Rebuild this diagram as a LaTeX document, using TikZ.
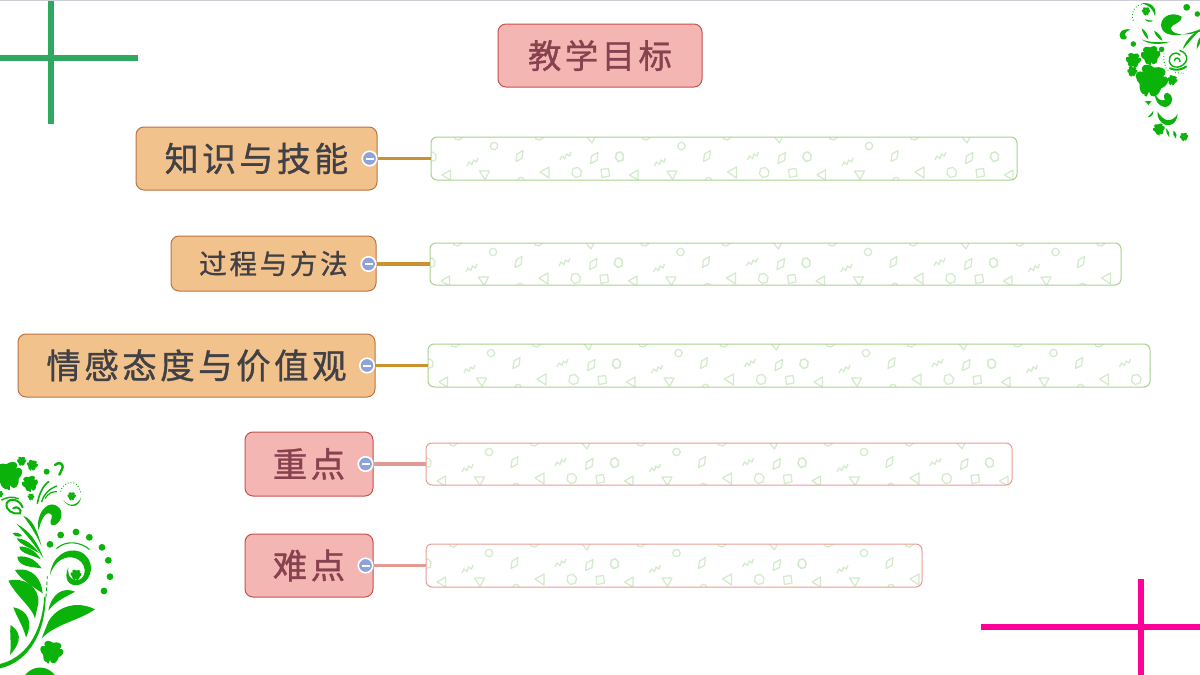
\documentclass[tikz,border=0pt]{standalone}
\usepackage{fontspec}
\newfontfamily\cjk[LetterSpace=10,FakeBold=1]{Noto Sans CJK SC}
\definecolor{orfill}{HTML}{F2C28D}
\definecolor{ordraw}{HTML}{BE7440}
\definecolor{pkfill}{HTML}{F4B6B3}
\definecolor{pkdraw}{HTML}{C5524F}
\definecolor{ortext}{HTML}{404045}
\definecolor{pktext}{HTML}{87414F}
\definecolor{orline}{HTML}{C9922F}
\definecolor{pkline}{HTML}{E29A93}
\definecolor{grnbox}{HTML}{ABD28C}
\definecolor{pkbox}{HTML}{E99C95}
\definecolor{patc}{HTML}{D3EBCC}
\definecolor{knobc}{HTML}{8FA3D8}
\definecolor{orn}{HTML}{0AB20A}
\definecolor{topline}{HTML}{CDCDD6}
\definecolor{crossgreen}{HTML}{2FA860}
\definecolor{crosspink}{HTML}{FF0099}
\tikzset{
  topic/.style={draw, rounded corners=8pt, line width=1pt, inner sep=0pt, align=center},
  ortopic/.style={topic, fill=orfill, draw=ordraw, text=ortext},
  pktopic/.style={topic, fill=pkfill, draw=pkdraw, text=pktext},
  sbox/.style={draw, rounded corners=6pt, line width=1pt, inner sep=0pt, fill=none},
  gbox/.style={sbox, draw=grnbox},
  rbox/.style={sbox, draw=pkbox},
  knob/.style={circle, fill=knobc, draw=white, line width=1.6pt, minimum size=14.5pt, inner sep=0pt},
  orlink/.style={draw=orline, line width=3.2pt},
  pklink/.style={draw=pkline, line width=3.2pt},
  patt/.style={draw=patc, line width=1.25pt, line join=round},
  ornf/.style={fill=orn, draw=none},
  orns/.style={draw=orn, line cap=round}
}
% pattern tile, drawn from the top-left of a box
\newcommand{\patrun}[4]{%
  \begin{scope}
    \clip[rounded corners=6pt] (#1,#2) rectangle (#3,#4);
    \foreach \ii in {0,1,2,3,4}{
      \begin{scope}[shift={({#1+1+\ii*187.5},#2)}]
        \draw[patt] (62,9) circle (3.7);
        \draw[patt] (84,24.5) -- (85,17) -- (91,13.5) -- (90,21.5) -- cycle;
        \draw[patt] (35,29) -- (37,25) -- (40,27.5) -- (41.5,23) -- (44.5,25) -- (46,21);
        \draw[patt] (10,38) -- (18.5,33) -- (18.5,43) -- cycle;
        \draw[patt] (47.5,34) -- (57.5,34) -- (53,42.5) -- cycle;
        \draw[patt] (22,-3) -- (30,-3) -- (31,0) -- (27,3) -- (23,2) -- cycle;
        \draw[patt] (103,-3) -- (111,-3) -- (112,0) -- (108,3) -- (104,2) -- cycle;
        \draw[patt] (154,-1) -- (164,-2) -- (160,6) -- cycle;
        \draw[patt] (128,23) -- (130,19) -- (133,21.5) -- (134.5,17) -- (137.5,19) -- (139,15);
        \draw[patt] (158.5,26.5) -- (159.5,19) -- (166,15.5) -- (165,23.5) -- cycle;
        \draw[patt] (-3,16) -- (1,15) -- (4,18) -- (3.5,23) -- (-1,24.5) -- (-4,21) -- cycle;
        \draw[patt] (184.5,16) -- (188.5,15) -- (191.5,18) -- (191,23) -- (186.5,24.5) -- (183.5,21) -- cycle;
        \draw[patt] (108,35) -- (117,30) -- (117,41) -- cycle;
        \draw[patt] (141,31.5) -- (146,30.5) -- (149.5,34) -- (148.5,39) -- (143.5,40.5) -- (140,37) -- cycle;
        \draw[patt] (169,32.5) -- (176.5,31.5) -- (177.5,39) -- (170,40.5) -- cycle;
        \draw[patt] (89,43.5) circle (3.2);
      \end{scope}
    }
  \end{scope}}
% clover: centre, size, rotation
\newcommand{\clover}[4]{%
  \begin{scope}[shift={(#1,#2)},rotate=#4,scale=#3]
    \foreach \aa in {0,120,240}{
      \fill[orn,rotate=\aa] (0,0) .. controls (-1.55,0.5) and (-0.95,1.45) .. (0,1) .. controls (0.95,1.45) and (1.55,0.5) .. (0,0) -- cycle;
    }
    \fill[orn] (-0.12,0) -- (0.12,0) -- (0.3,-1.35) -- (0.1,-1.35) -- cycle;
  \end{scope}}
\begin{document}
\begin{tikzpicture}[x=1pt,y=-1pt]
\useasboundingbox (0,0) rectangle (1200,675);
\fill[white] (0,0) rectangle (1200,675);
\fill[topline] (0,0) rectangle (1200,1.2);

% crosses
\fill[crossgreen] (0,54.5) rectangle (137.5,60.5);
\fill[crossgreen] (47.5,0.8) rectangle (53.5,124);
\fill[crosspink] (981,624) rectangle (1200,630);
\fill[crosspink] (1138,579) rectangle (1144,675);

% lower-left ornament (coordinates of a 3x view)
\begin{scope}[shift={(0,450)},x=0.33333pt,y=-0.33333pt]
  \fill[ornf] (25,392) .. controls (70,380) and (120,410) .. (115,460) -- (105,505) .. controls (95,470) and (50,440) .. cycle;
  \fill[ornf] (45,360) .. controls (100,350) and (125,390) .. (128,430) .. controls (90,405) and (60,385) .. cycle;
  \fill[ornf] (40,472) .. controls (85,480) and (100,520) .. (78,562) .. controls (70,530) and (50,500) .. cycle;
  \fill[ornf] (32,525) .. controls (60,545) and (70,570) .. (30,615) .. controls (35,580) and (28,550) .. cycle;
  \fill[ornf] (285,478) .. controls (230,450) and (170,470) .. (145,515) -- (125,565) .. controls (170,520) and (230,515) .. cycle;
  \fill[ornf] (225,425) .. controls (190,410) and (155,430) .. (145,482) .. controls (170,450) and (200,440) .. cycle;
  \fill[ornf] (52,320) .. controls (90,315) and (110,335) .. (125,355) .. controls (90,350) and (55,350) .. cycle;
  \fill[ornf] (58,290) .. controls (85,288) and (110,305) .. (122,328) .. controls (100,315) and (60,312) .. cycle;
  \fill[ornf] (50,265) .. controls (75,265) and (100,285) .. (118,310) .. controls (95,295) and (60,285) .. cycle;
  \fill[ornf] (50,222) .. controls (85,240) and (110,270) .. (130,325) .. controls (105,285) and (80,255) .. cycle;
  \fill[ornf] (38,250) .. controls (50,245) and (60,250) .. (66,258) .. controls (55,262) and (45,260) .. cycle;
  \fill[ornf] (70,198) .. controls (95,205) and (110,235) .. (125,290) .. controls (110,255) and (90,225) .. cycle;
  \fill[ornf] (75,675) .. controls (100,645) and (140,645) .. (165,675) -- cycle;
  \fill[ornf] (0,642) .. controls (70,625) and (125,560) .. (133,440) -- (137,440) .. controls (135,570) and (70,640) .. (0,655) -- cycle;
  \draw[orns,line width=0.9pt,dashed] (138,440) -- (142,380);
  \fill[ornf] (115,240) .. controls (108,190) and (140,155) .. (165,165) .. controls (192,175) and (190,212) .. (165,225) .. controls (150,230) and (148,215) .. (155,205) .. controls (160,190) and (145,185) .. (135,195) .. controls (122,210) and (120,230) .. cycle;
  \fill[ornf] (150,375) .. controls (155,320) and (200,290) .. (240,305) .. controls (285,325) and (285,390) .. (235,405) .. controls (205,410) and (190,385) .. (205,352) .. controls (200,385) and (225,400) .. (245,385) .. controls (265,365) and (250,325) .. (215,322) .. controls (180,320) and (160,345) .. cycle;
  \clover{228}{374}{13}{175}
  \draw[orns,line width=1.1pt] (170,295) .. controls (200,270) and (240,275) .. (268,298);
  \foreach \px/\py in {150/283,182/255,228/246,268/262,306/292,325/331,330/380,312/423}{
    \fill[orn] (\px,\py) circle (3.4pt);
  }
  \clover{155}{605}{27}{170}
  \clover{25}{75}{33}{190}
  \clover{90}{100}{19}{190}
  \clover{97}{45}{13}{170}
  \clover{65}{33}{11}{180}
  \clover{93}{140}{8}{180}
  \clover{0}{132}{8}{180}
  \fill[orn] (140,65) circle (3pt);
  \draw[orns,line width=2.4pt] (165,45) .. controls (175,35) and (190,40) .. (188,52) .. controls (186,62) and (180,68) .. (178,74);
  \draw[orns,line width=2pt] (68,172) .. controls (60,150) and (30,140) .. (20,160) .. controls (15,180) and (40,195) .. (60,190) .. controls (68,180) and (50,165) .. (40,175);
  \draw[orns,line width=1.4pt] (5,150) .. controls (20,142) and (35,138) .. (55,146);
  \draw[orns,line width=1.6pt] (112,160) .. controls (118,130) and (130,105) .. (146,95);
  \draw[orns,line width=1.4pt] (125,155) .. controls (130,135) and (145,118) .. (170,108);
  \draw[orns,line width=1.2pt] (135,145) .. controls (145,130) and (155,125) .. (170,125);
  \clover{215}{138}{10}{180}
  \fill[ornf] (190,150) .. controls (205,170) and (230,170) .. (243,143) .. controls (238,175) and (205,175) .. cycle;
  \draw[orn,line width=0.9pt,dotted] (182,125) .. controls (185,100) and (230,75) .. (243,130);
\end{scope}

% upper-right ornament
\begin{scope}[shift={(1080,0)},x=0.33333pt,y=-0.33333pt]
  \clover{215}{240}{38}{168}
  \clover{212}{165}{23}{185}
  \clover{160}{180}{18}{175}
  \clover{157}{214}{12}{175}
  \clover{277}{240}{12}{165}
  \clover{237}{387}{14}{190}
  \clover{312}{410}{10}{185}
  \clover{198}{33}{10}{180}
  \fill[orn] (160,132) circle (2.8pt);
  \fill[orn] (245,148) circle (2.8pt);
  \fill[orn] (320,22) circle (3.4pt);
  \fill[orn] (352,42) circle (2.8pt);
  \fill[ornf] (305,50) .. controls (280,35) and (245,45) .. (243,75) .. controls (245,110) and (290,115) .. (360,88) -- (360,95) .. controls (330,105) and (280,110) .. (272,85) .. controls (275,70) and (305,72) .. cycle;
  \fill[ornf] (152,88) .. controls (125,85) and (112,100) .. (122,115) .. controls (130,122) and (142,118) .. (140,110) .. controls (130,105) and (135,95) .. cycle;
  \fill[ornf] (225,278) .. controls (222,310) and (250,328) .. (265,318) .. controls (282,305) and (280,285) .. (262,278) .. controls (250,280) and (250,290) .. (255,300) .. controls (240,305) and (230,295) .. cycle;
  \fill[ornf] (233,335) .. controls (250,365) and (275,370) .. (293,342) .. controls (290,372) and (270,380) .. (255,374) .. controls (240,367) and (230,352) .. cycle;
  \fill[ornf] (205,315) -- (195,303) -- (215,303) -- cycle;
  \fill[ornf] (203,352) .. controls (210,345) and (215,340) .. (220,332) .. controls (220,345) and (215,350) .. cycle;
  \fill[ornf] (258,385) .. controls (266,392) and (270,402) .. (268,412) .. controls (260,405) and (258,395) .. cycle;
  \fill[ornf] (280,392) .. controls (290,398) and (292,408) .. (288,416) .. controls (280,410) and (278,400) .. cycle;
  \fill[ornf] (185,85) .. controls (195,90) and (205,105) .. (205,118) .. controls (195,110) and (187,98) .. cycle;
  \fill[ornf] (222,92) .. controls (235,98) and (245,110) .. (247,122) .. controls (235,118) and (225,105) .. cycle;
  \fill[ornf] (185,118) .. controls (205,128) and (245,128) .. (270,125) .. controls (245,135) and (205,135) .. cycle;
  \fill[ornf] (308,148) .. controls (315,125) and (335,100) .. (360,90) .. controls (340,110) and (325,130) .. cycle;
  \fill[ornf] (350,148) .. controls (350,130) and (355,118) .. (360,112) -- (360,130) -- cycle;
  \draw[orns,line width=1.4pt] (300,165) .. controls (285,150) and (265,165) .. (268,185) .. controls (275,210) and (310,205) .. (320,180) .. controls (322,165) and (312,155) .. (300,152);
  \draw[orns,line width=1.4pt] (300,185) .. controls (300,172) and (285,170) .. (283,182);
  \draw[orns,line width=2pt] (270,205) .. controls (285,212) and (305,210) .. (318,200);
  \fill[ornf] (185,10) .. controls (215,5) and (232,25) .. (225,50) .. controls (220,25) and (205,15) .. cycle;
  \fill[ornf] (195,58) .. controls (205,60) and (212,62) .. (220,62) .. controls (210,68) and (200,66) .. cycle;
  \draw[orn,line width=0.9pt,dotted] (185,12) .. controls (160,20) and (150,45) .. (160,62);
  \draw[orn,line width=0.9pt,dotted] (252,160) .. controls (250,185) and (255,205) .. (265,212);
  \draw[orn,line width=0.9pt,dotted] (285,218) -- (312,220);
\end{scope}

% patterns inside the side boxes
\patrun{431}{137}{1017}{180}
\patrun{430}{243}{1121}{285}
\patrun{428}{344}{1150}{387}
\patrun{426}{443}{1012}{485}
\patrun{426}{544}{922}{587}

% topics
\node[pktopic, minimum width=204pt, minimum height=63pt, font=\cjk\fontsize{33.5}{36}\selectfont] (goal) at (600,55.5) {教学目标};
\node[ortopic, minimum width=241pt, minimum height=63pt, font=\cjk\fontsize{34}{36}\selectfont] (know) at (256.5,158.5) {知识与技能};
\node[ortopic, minimum width=205pt, minimum height=55pt, font=\cjk\fontsize{27.5}{30}\selectfont] (proc) at (273.5,263.5) {过程与方法};
\node[ortopic, minimum width=357pt, minimum height=63pt, font=\cjk\fontsize{34.5}{36}\selectfont] (atti) at (196.5,365.5) {情感态度与价值观};
\node[pktopic, minimum width=128pt, minimum height=64pt, font=\cjk\fontsize{34.5}{36}\selectfont] (key) at (309,464) {重点};
\node[pktopic, minimum width=128pt, minimum height=63pt, font=\cjk\fontsize{34.5}{36}\selectfont] (hard) at (309,565.5) {难点};

% side boxes
\node[gbox, minimum width=586pt, minimum height=43pt] (b1) at (724,158.5) {};
\node[gbox, minimum width=691pt, minimum height=42pt] (b2) at (775.5,264) {};
\node[gbox, minimum width=722pt, minimum height=43pt] (b3) at (789,365.5) {};
\node[rbox, minimum width=586pt, minimum height=42pt] (b4) at (719,464) {};
\node[rbox, minimum width=496pt, minimum height=43pt] (b5) at (674,565.5) {};

% collapse knobs
\node[knob] (k1) at (369.5,158.5) {};
\node[knob] (k2) at (368.5,264) {};
\node[knob] (k3) at (367,365.5) {};
\node[knob] (k4) at (365.5,464) {};
\node[knob] (k5) at (365.5,565.5) {};
\foreach \kn in {k1,k2,k3,k4,k5}{
  \fill[white] ([xshift=-4pt,yshift=-1pt]\kn.center) rectangle ([xshift=4pt,yshift=1pt]\kn.center);
}

% connectors
\draw[orlink] (k1.east) -- (b1.west);
\draw[orlink] (k2.east) -- (b2.west);
\draw[orlink] (k3.east) -- (b3.west);
\draw[pklink] (k4.east) -- (b4.west);
\draw[pklink] (k5.east) -- (b5.west);
\end{tikzpicture}
\end{document}
